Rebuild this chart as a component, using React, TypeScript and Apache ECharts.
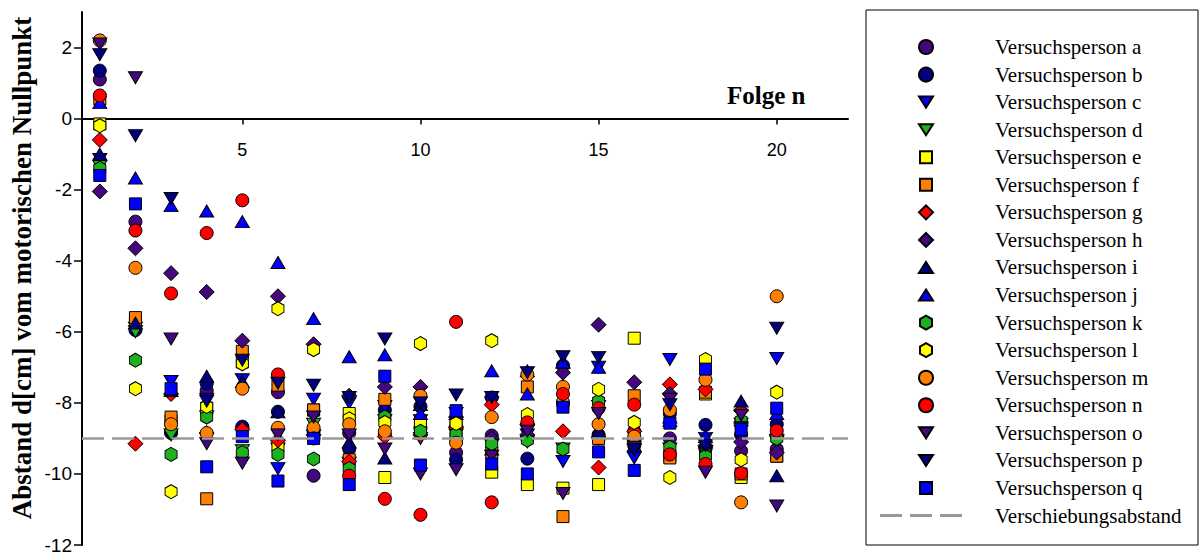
import React, { useEffect, useRef } from "react";
import * as echarts from "echarts";

const folge = [1, 2, 3, 4, 5, 6, 7, 8, 9, 10, 11, 12, 13, 14, 15, 16, 17, 18, 19, 20];

const vpA = [1.1, -2.9, -8.8, -7.65, -8.7, -7.7, -10.05, -8.85, -8.9, -8.7, -9.4, -8.92, -9.0, -8.0, -9.0, -9.2, -9.0, -9.3, -9.35, -9.3];
const vpB = [1.35, -5.95, -8.85, -7.45, -8.67, -8.25, -8.8, -9.3, -8.2, -8.1, -9.6, -7.85, -9.57, -6.95, -8.9, -8.8, -8.3, -8.62, -8.9, -8.6];
const vpC = [-1.15, -5.9, -7.4, -7.9, -7.35, -9.85, -7.9, -8.0, -8.1, -8.5, -8.3, -8.0, -8.9, -9.65, -7.0, -9.55, -6.78, -9.0, -8.8, -6.75];
const vpD = [-1.35, -6.0, -8.9, -8.4, -9.35, -9.3, -8.6, -9.7, -8.5, -9.0, -8.9, -9.2, -9.1, -9.3, -8.1, -9.2, -9.3, -9.4, -8.6, -9.1];
const vpE = [-0.15, -5.7, -8.5, -8.15, -6.85, -9.2, -8.2, -8.3, -10.1, -8.6, -8.6, -9.95, -10.3, -10.4, -10.3, -6.18, -9.5, -7.75, -10.1, -9.5];
const vpF = [0.55, -5.6, -8.4, -10.7, -6.55, -7.5, -8.2, -9.6, -7.9, -8.85, -9.0, -9.4, -7.55, -11.2, -9.0, -7.8, -9.55, -7.7, -10.0, -9.5];
const vpG = [-0.6, -9.15, -7.75, -8.85, -8.75, -9.05, -8.9, -9.65, -8.95, -8.9, -8.7, -8.05, -8.6, -8.8, -9.82, -8.8, -7.48, -7.62, -8.22, -8.9];
const vpH = [-2.05, -3.65, -4.35, -4.88, -6.25, -5.0, -6.35, -7.8, -7.55, -7.55, -8.4, -9.0, -8.9, -7.15, -5.8, -7.42, -7.75, -9.2, -9.1, -9.4];
const vpI = [-1.0, -5.75, -7.65, -7.25, -7.4, -8.25, -8.6, -9.1, -9.55, -8.05, -8.5, -9.3, -7.1, -6.85, -8.8, -9.0, -8.4, -9.1, -7.95, -10.05];
const vpJ = [0.45, -1.67, -2.45, -2.6, -2.9, -4.05, -5.63, -6.7, -6.65, -8.3, -8.3, -7.1, -7.75, -6.85, -7.0, -9.2, -8.5, -8.95, -8.4, -8.3];
const vpK = [-1.4, -6.8, -9.45, -8.4, -9.4, -9.45, -9.58, -9.85, -8.4, -8.8, -8.88, -9.15, -9.05, -9.3, -7.95, -9.1, -9.25, -9.5, -8.5, -9.0];
const vpL = [-0.2, -7.6, -10.5, -8.1, -6.9, -5.35, -6.5, -8.45, -8.55, -6.33, -8.58, -6.25, -8.33, -8.0, -7.62, -8.55, -10.1, -6.78, -9.6, -7.7];
const vpM = [2.2, -4.2, -8.6, -8.85, -7.6, -8.7, -8.7, -8.6, -8.8, -7.8, -9.12, -8.4, -7.2, -7.55, -8.6, -8.95, -8.2, -7.35, -10.8, -5.0];
const vpN = [0.65, -3.15, -4.92, -3.22, -2.3, -7.2, -9.0, -10.05, -10.7, -11.15, -5.72, -10.8, -8.55, -7.75, -8.15, -8.05, -9.45, -9.72, -9.98, -8.78];
const vpO = [2.1, 1.15, -6.2, -9.15, -9.7, -8.9, -8.4, -8.9, -9.3, -10.0, -9.88, -9.5, -8.8, -10.55, -8.3, -9.25, -7.9, -9.95, -8.35, -10.9];
const vpP = [1.8, -0.48, -2.25, -7.95, -6.8, -7.45, -7.5, -7.85, -6.2, -8.0, -7.78, -7.85, -7.15, -6.7, -6.72, -9.32, -8.05, -9.2, -8.7, -5.9];
const vpQ = [-1.6, -2.4, -7.6, -9.8, -8.95, -10.2, -9.0, -10.3, -7.25, -9.75, -8.22, -9.72, -10.0, -8.12, -9.38, -9.9, -8.57, -7.05, -8.75, -8.15];

const verschiebung = -9;
const xRange = [0.5, 22];
const yRange = [-12, 3];
const xTicks = [5, 10, 15, 20];
const yTicks = [-12, -10, -8, -6, -4, -2, 0, 2];

const names = [
  "Versuchsperson a", "Versuchsperson b", "Versuchsperson c", "Versuchsperson d",
  "Versuchsperson e", "Versuchsperson f", "Versuchsperson g", "Versuchsperson h",
  "Versuchsperson i", "Versuchsperson j", "Versuchsperson k", "Versuchsperson l",
  "Versuchsperson m", "Versuchsperson n", "Versuchsperson o", "Versuchsperson p",
  "Versuchsperson q",
];
const lineName = "Verschiebungsabstand";
const values = [vpA, vpB, vpC, vpD, vpE, vpF, vpG, vpH, vpI, vpJ, vpK, vpL, vpM, vpN, vpO, vpP, vpQ];

const PURPLE = "#44087e";
const NAVY = "#000080";
const BLUE = "#0000ff";
const GREEN = "#1db11d";
const YELLOW = "#ffff00";
const ORANGE = "#ff8000";
const RED = "#ff0000";

const DOWN = "path://M0,0 L14,0 L7,12 Z";
const UP = "path://M7,0 L14,12 L0,12 Z";
const RECT = "path://M0,0 L12,0 L12,12 L0,12 Z";
const DIAMOND = "path://M7.5,0 L15,7.5 L7.5,15 L0,7.5 Z";
const HEX = "path://M6,0 L12,3.5 L12,10.5 L6,14 L0,10.5 L0,3.5 Z";
const DOWN_L = "path://M0,1.5 L14,1.5 L7,12.5 Z M7,0h0.01 M7,14h0.01";
const UP_L = "path://M7,1.5 L14,12.5 L0,12.5 Z M7,0h0.01 M7,14h0.01";
const RECT_L = "path://M1,1 L13,1 L13,13 L1,13 Z M0,0h0.01 M14,14h0.01";
const DASH_ICON = "path://M0,0h22v3h-22z M30,0h22v3h-22z M60,0h22v3h-22z M92,1.5h0.01";

const styles: { symbol: string; size: number | number[]; color: string; legendIcon?: string }[] = [
  { symbol: "circle", size: 13, color: PURPLE },
  { symbol: "circle", size: 13, color: NAVY },
  { symbol: DOWN, size: [14, 12], color: BLUE, legendIcon: DOWN_L },
  { symbol: DOWN, size: [14, 12], color: GREEN, legendIcon: DOWN_L },
  { symbol: RECT, size: [12, 12], color: YELLOW, legendIcon: RECT_L },
  { symbol: RECT, size: [12, 12], color: ORANGE, legendIcon: RECT_L },
  { symbol: DIAMOND, size: [15, 15], color: RED },
  { symbol: DIAMOND, size: [15, 15], color: PURPLE },
  { symbol: UP, size: [14, 12], color: NAVY, legendIcon: UP_L },
  { symbol: UP, size: [14, 12], color: BLUE, legendIcon: UP_L },
  { symbol: HEX, size: [12, 14], color: GREEN },
  { symbol: HEX, size: [12, 14], color: YELLOW },
  { symbol: "circle", size: 13, color: ORANGE },
  { symbol: "circle", size: 13, color: RED },
  { symbol: DOWN, size: [14, 12], color: PURPLE, legendIcon: DOWN_L },
  { symbol: DOWN, size: [14, 12], color: NAVY, legendIcon: DOWN_L },
  { symbol: RECT, size: [12, 12], color: BLUE, legendIcon: RECT_L },
];

const SERIF = "'Liberation Serif', 'Times New Roman', serif";
const SANS = "'Liberation Sans', Arial, sans-serif";

const GRID = { left: 82, top: 12, width: 766, height: 533 };

export default function App() {
  const ref = useRef<HTMLDivElement>(null);
  useEffect(() => {
    if (!ref.current) return;
    const chart = echarts.init(ref.current, null, { renderer: "svg" });
    const scatter = names.map((name, i) => ({
      name,
      type: "scatter",
      symbol: styles[i].symbol,
      symbolSize: styles[i].size,
      itemStyle: { color: styles[i].color, borderColor: "#000", borderWidth: 1, opacity: 1 },
      data: folge.map((n, k) => [n, values[i][k]]),
      z: 3,
    }));
    const zeroOffset = -(GRID.height * (0 - yRange[0])) / (yRange[1] - yRange[0]);
    const option = {
      animation: false,
      backgroundColor: "#fff",
      grid: { ...GRID, show: false, containLabel: false, outerBoundsMode: "none" },
      xAxis: {
        type: "value",
        position: "bottom",
        offset: zeroOffset,
        min: xRange[0],
        max: xRange[1],
        axisLine: { show: true, onZero: false, lineStyle: { color: "#000", width: 2 } },
        axisTick: { show: true, customValues: xTicks, length: 6, lineStyle: { color: "#000", width: 1.5 } },
        axisLabel: { customValues: xTicks, margin: 22, fontSize: 18, fontFamily: SANS, color: "#000" },
        splitLine: { show: false },
      },
      yAxis: {
        type: "value",
        min: yRange[0],
        max: yRange[1],
        axisLine: { show: true, onZero: false, lineStyle: { color: "#000", width: 2 } },
        axisTick: { show: true, customValues: yTicks, length: 8, lineStyle: { color: "#000", width: 1.5 } },
        axisLabel: { customValues: yTicks, margin: 10, fontSize: 19, fontFamily: SANS, color: "#000" },
        splitLine: { show: false },
      },
      legend: {
        orient: "vertical",
        left: 875,
        top: 31.5,
        itemWidth: 92,
        itemHeight: 14,
        itemGap: 6.56,
        selectedMode: false,
        textStyle: { fontFamily: SERIF, fontSize: 21, lineHeight: 21, color: "#000", padding: [0, 0, 0, 18] },
        data: [
          ...names.map((name, i) =>
            styles[i].legendIcon ? { name, icon: styles[i].legendIcon } : name
          ),
          { name: lineName, icon: DASH_ICON, itemStyle: { color: "#999", borderWidth: 0 } },
        ],
      },
      graphic: [
        {
          type: "rect",
          shape: { x: 866, y: 10, width: 332, height: 535 },
          style: { fill: "none", stroke: "#000", lineWidth: 1 },
          silent: true,
        },
        {
          type: "text",
          x: 22,
          y: 268,
          rotation: Math.PI / 2,
          style: {
            text: "Abstand d[cm] vom motorischen Nullpunkt",
            font: `bold 27px ${SERIF}`,
            fill: "#000",
            align: "center",
            verticalAlign: "middle",
          },
        },
        {
          type: "text",
          x: 727,
          y: 95,
          style: {
            text: "Folge n",
            font: `bold 25px ${SERIF}`,
            fill: "#000",
            align: "left",
            verticalAlign: "middle",
          },
        },
      ],
      series: [
        ...scatter,
        {
          name: lineName,
          type: "line",
          data: [[xRange[0], verschiebung], [xRange[1], verschiebung]],
          symbol: "none",
          lineStyle: { color: "#999", width: 2.5, type: [22, 8] },
          itemStyle: { color: "#999" },
          z: 5,
        },
      ],
    };
    chart.setOption(option as any);
    return () => chart.dispose();
  }, []);
  return <div ref={ref} style={{ width: 1200, height: 559, position: "absolute", left: 0, top: 0 }} />;
}
